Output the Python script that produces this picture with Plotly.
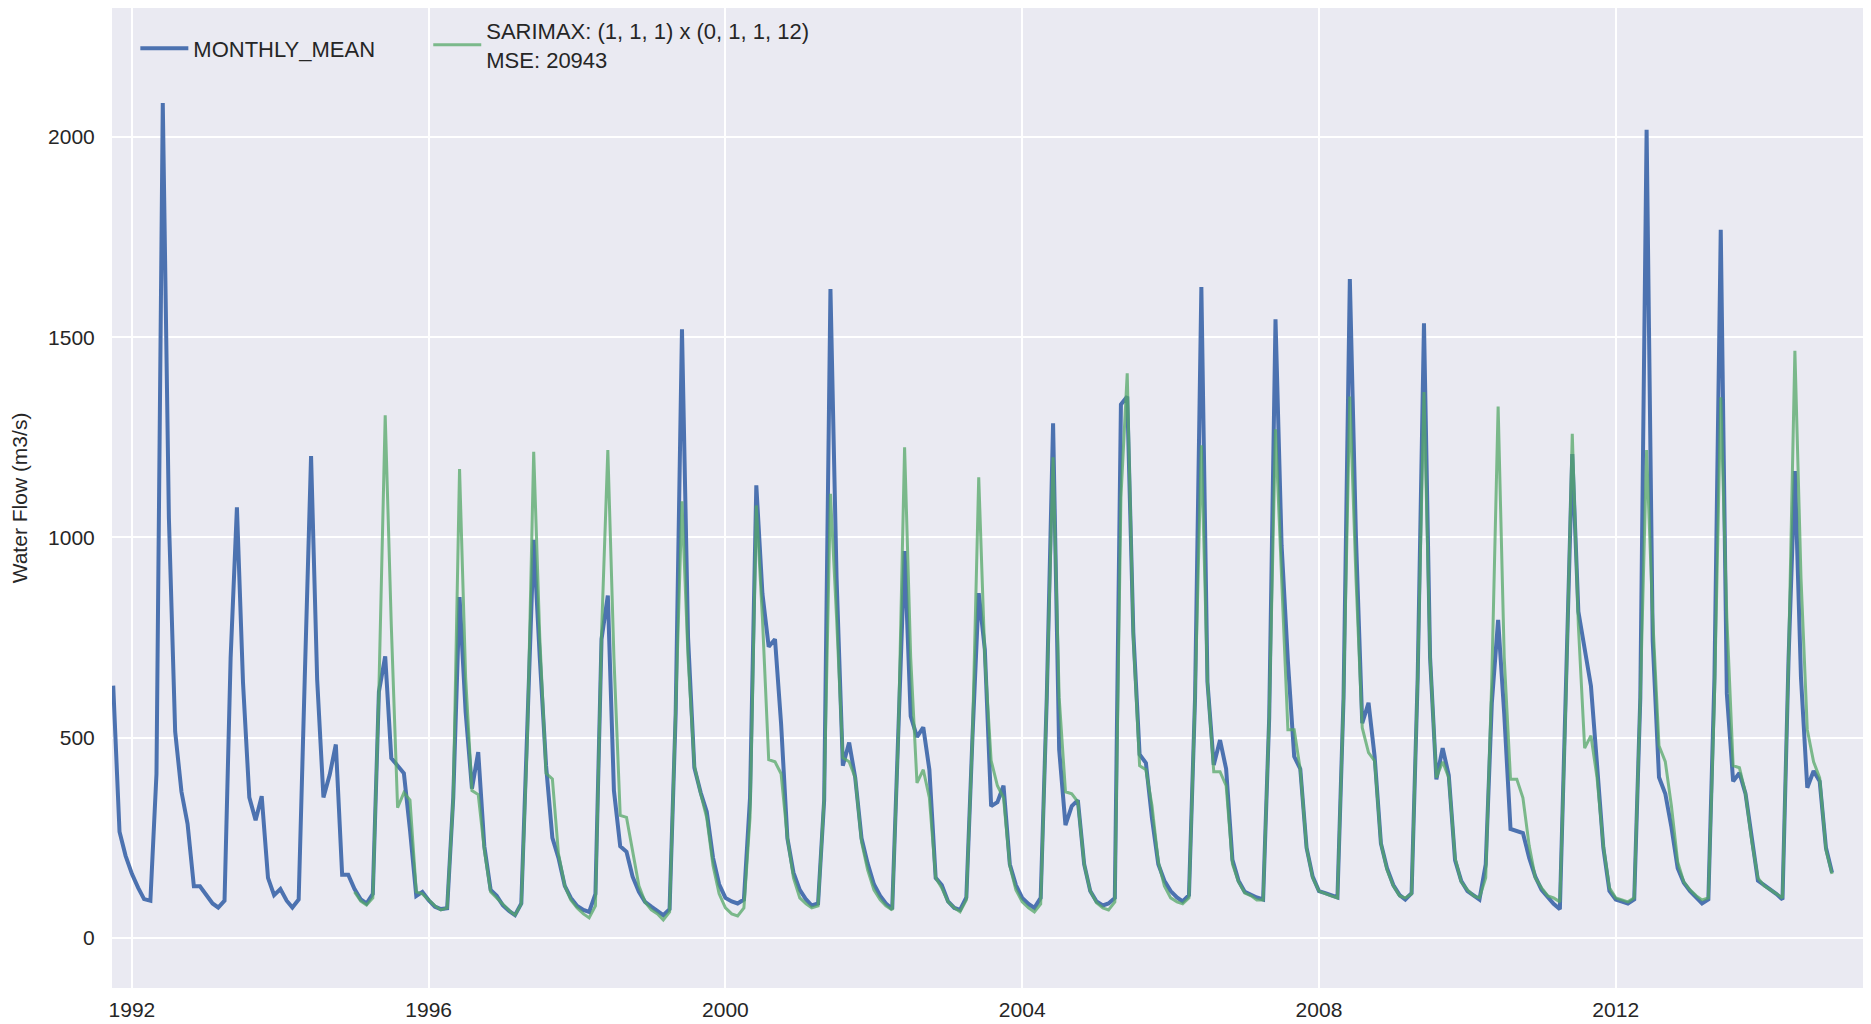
import pandas as pd
import plotly.graph_objects as go

# ---- data (monthly values) ----
MEAN_START = "1991-10-01"
MONTHLY_MEAN = [
    630, 265, 205,
    160, 125, 97, 93, 410, 2085, 1050, 515, 365, 285, 129, 129,      # 1992
    107, 86, 76, 93, 700, 1075, 637, 351, 294, 354, 150, 107,        # 1993
    122, 93, 76, 96, 650, 1203, 645, 351, 408, 483, 158, 158,        # 1994
    122, 96, 86, 110, 615, 703, 449, 430, 411, 270, 105, 115,        # 1995
    94, 78, 72, 74, 350, 851, 564, 373, 464, 229, 120, 105,          # 1996
    81, 67, 57, 86, 500, 994, 700, 430, 250, 200, 130, 100,          # 1997
    80, 70, 65, 110, 746, 855, 368, 229, 215, 153, 115, 90,          # 1998
    78, 67, 57, 72, 560, 1520, 750, 425, 363, 315, 200, 134,         # 1999
    100, 91, 86, 96, 350, 1130, 860, 727, 746, 535, 249, 163,        # 2000
    120, 96, 81, 86, 344, 1620, 900, 430, 488, 400, 249, 186,        # 2001
    134, 105, 86, 72, 500, 966, 554, 502, 526, 420, 150, 132,        # 2002
    91, 75, 70, 101, 500, 861, 720, 329, 339, 380, 184, 132,         # 2003
    100, 85, 75, 100, 600, 1285, 470, 282, 329, 344, 184, 117,       # 2004
    91, 81, 86, 100, 1332, 1352, 763, 458, 437, 298, 184, 143,       # 2005
    117, 101, 91, 107, 600, 1625, 639, 432, 494, 422, 195, 143,      # 2006
    115, 107, 101, 96, 550, 1545, 980, 691, 453, 422, 225, 153,      # 2007
    117, 112, 107, 101, 600, 1645, 1001, 536, 587, 453, 236, 174,    # 2008
    132, 107, 96, 112, 650, 1535, 700, 396, 474, 406, 194, 143,      # 2009
    117, 107, 96, 184, 587, 794, 560, 272, 267, 262, 200, 153,       # 2010
    120, 100, 85, 72, 600, 1208, 815, 722, 629, 432, 225, 117,       # 2011
    96, 91, 86, 96, 600, 2018, 742, 401, 360, 277, 174, 138,         # 2012
    117, 101, 86, 96, 650, 1768, 610, 391, 412, 360, 246, 143,       # 2013
    132, 122, 110, 96, 700, 1166, 650, 375, 417, 391, 225, 163,      # 2014
]

PRED_START = "1995-01-01"
SARIMAX_PRED = [
    115, 92, 82, 100, 620, 1305, 780, 325, 363, 344, 115, 110,       # 1995
    95, 80, 70, 75, 350, 1171, 650, 368, 358, 220, 115, 100,         # 1996
    82, 68, 57, 85, 500, 1214, 750, 411, 397, 210, 130, 95,          # 1997
    75, 60, 50, 80, 760, 1218, 700, 306, 301, 220, 130, 90,          # 1998
    70, 60, 45, 65, 560, 1090, 700, 430, 360, 300, 180, 110,         # 1999
    75, 60, 55, 75, 300, 1080, 800, 445, 440, 410, 250, 150,         # 2000
    100, 85, 75, 80, 350, 1109, 800, 450, 440, 400, 240, 170,        # 2001
    120, 95, 80, 70, 500, 1225, 700, 387, 420, 350, 150, 125,        # 2002
    90, 75, 65, 95, 500, 1150, 700, 443, 380, 350, 180, 120,         # 2003
    90, 75, 65, 85, 600, 1200, 600, 365, 360, 340, 184, 117,         # 2004
    88, 75, 70, 90, 1100, 1410, 750, 430, 420, 330, 190, 130,        # 2005
    100, 90, 85, 100, 600, 1230, 640, 415, 415, 380, 185, 140,       # 2006
    112, 105, 95, 95, 550, 1270, 900, 520, 520, 420, 225, 150,       # 2007
    117, 110, 105, 100, 600, 1352, 900, 525, 463, 442, 236, 170,     # 2008
    130, 105, 100, 110, 650, 1363, 700, 400, 440, 400, 200, 140,     # 2009
    120, 105, 100, 150, 650, 1327, 700, 396, 396, 350, 230, 150,     # 2010
    125, 105, 100, 90, 600, 1259, 780, 474, 505, 400, 230, 125,      # 2011
    100, 95, 90, 100, 600, 1218, 800, 480, 440, 330, 190, 140,       # 2012
    120, 105, 95, 100, 600, 1350, 800, 430, 425, 360, 240, 150,      # 2013
    130, 120, 110, 100, 700, 1466, 900, 520, 440, 400, 220, 160,     # 2014
]

X_TICKS = ["1992-01-01", "1996-01-01", "2000-01-01", "2004-01-01", "2008-01-01", "2012-01-01"]
X_TICK_LABELS = ["1992", "1996", "2000", "2004", "2008", "2012"]
Y_TICKS = [0, 500, 1000, 1500, 2000]

MEAN_NAME = "MONTHLY_MEAN"
PRED_NAME = "SARIMAX: (1, 1, 1) x (0, 1, 1, 12)<br>MSE: 20943"

# ---- figure ----
mean_dates = pd.date_range(MEAN_START, periods=len(MONTHLY_MEAN), freq="MS")
pred_dates = pd.date_range(PRED_START, periods=len(SARIMAX_PRED), freq="MS")

FONT = "Liberation Sans, Arial, sans-serif"
TEXT = "#262626"

fig = go.Figure()
fig.add_trace(go.Scatter(
    x=mean_dates, y=MONTHLY_MEAN, mode="lines", name=MEAN_NAME,
    line=dict(color="#4C72B0", width=4), legend="legend",
))
fig.add_trace(go.Scatter(
    x=pred_dates, y=SARIMAX_PRED, mode="lines", name=PRED_NAME,
    line=dict(color="#55A868", width=3), opacity=0.75, legend="legend2",
))

legend_common = dict(
    orientation="h", xanchor="left", yanchor="middle",
    bgcolor="rgba(0,0,0,0)", font=dict(size=22, color=TEXT, family=FONT),
    valign="middle", borderwidth=0, itemwidth=48,
)

# the page body has an 8px default margin, so the figure is sized to fit the window
fig.update_layout(
    width=1863, height=1016,
    margin=dict(l=104, r=4, t=0, b=36),
    paper_bgcolor="white",
    plot_bgcolor="#EAEAF2",
    font=dict(family=FONT, color=TEXT),
    showlegend=True,
    legend=dict(x=0.0133, y=0.9587, **legend_common),
    legend2=dict(x=0.1802, y=0.9622, **legend_common),
)
fig.update_xaxes(
    type="date",
    range=["1991-09-25", "2015-05-22"],
    tickmode="array", tickvals=X_TICKS, ticktext=X_TICK_LABELS,
    showgrid=True, gridcolor="white", gridwidth=1.6,
    zeroline=False, showline=False, automargin=False,
    ticks="outside", ticklen=3, tickcolor="rgba(0,0,0,0)",
    tickfont=dict(size=21, color=TEXT, family=FONT),
)
fig.update_yaxes(
    range=[-125, 2322],
    tickmode="array", tickvals=Y_TICKS,
    showgrid=True, gridcolor="white", gridwidth=1.6,
    zeroline=False, showline=False, automargin=False,
    ticks="outside", ticklen=12, tickcolor="rgba(0,0,0,0)",
    tickfont=dict(size=21, color=TEXT, family=FONT),
    title=dict(text="Water Flow (m3/s)", font=dict(size=21, color=TEXT, family=FONT), standoff=14),
)

fig.write_html("out.html")
